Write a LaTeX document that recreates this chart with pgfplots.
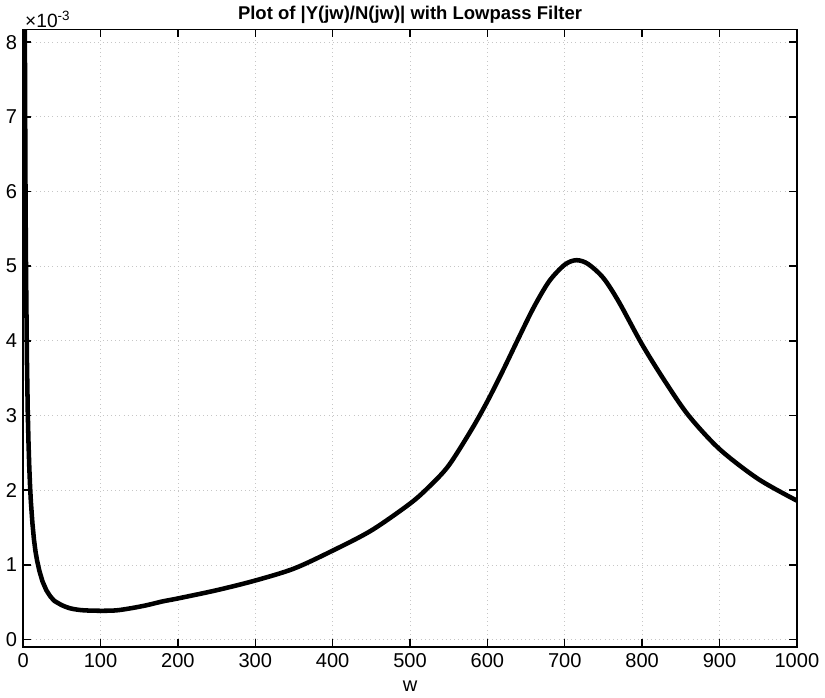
\documentclass[border=0pt]{standalone}
\usepackage{pgfplots}
\pgfplotsset{compat=1.18}
\usepackage{fontspec}
\setmainfont{Liberation Sans}

\begin{document}
\begin{tikzpicture}
\begin{axis}[
	width=15.6cm, height=12.45cm,
	scale only axis,
	title={\bfseries Plot of |Y(jw)/N(jw)| with Lowpass Filter},
	title style={font=\fontsize{10.6}{12}\selectfont, yshift=-6pt},
	xlabel={w},
	label style={font=\fontsize{11.5}{14}\selectfont},
	xlabel style={yshift=-1pt},
	tick label style={font=\fontsize{11.5}{14}\selectfont},
	xmin=0, xmax=1000,
	ymin=-0.1e-3, ymax=8.17e-3,
	xtick={0,100,...,1000},
	ytick={0,1e-3,2e-3,3e-3,4e-3,5e-3,6e-3,7e-3,8e-3},
	scaled y ticks=base 10:3,
	ytick scale label code/.code={×10\textsuperscript{#1}},
	every y tick scale label/.style={at={(rel axis cs:0,1)}, anchor=south west, inner sep=1pt, font=\fontsize{11}{13}\selectfont},
	/pgf/number format/assume math mode=true,
	/pgf/number format/set thousands separator={},
	tick align=inside,
	tick pos=both,
	major tick length=0.16cm,
	grid=major,
	major grid style={gray!45, dotted},
	axis line style={black, line width=0.9pt},
	tick style={black, line width=0.8pt},
	clip=true,
]

% steep part near w = 0
\addplot[black, line width=2.6pt, line join=round] coordinates {
	(1.5, 12.3e-3)
	(2, 9.2e-3)
	(2.5, 7.4e-3)
	(3, 6.2e-3)
	(3.5, 5.3e-3)
	(4, 4.7e-3)
	(5, 3.7e-3)
	(6, 3.05e-3)
	(7, 2.62e-3)
	(8, 2.3e-3)
	(9, 2.05e-3)
	(10, 1.85e-3)
	(12, 1.56e-3)
	(14, 1.34e-3)
	(16, 1.18e-3)
	(18, 1.06e-3)
	(21, 0.92e-3)
	(25, 0.78e-3)
	(30, 0.66e-3)
	(35, 0.58e-3)
	(40, 0.52e-3)
};

% rest of |Y/N|
\addplot[black, line width=2.6pt, smooth, line cap=round] coordinates {
	(40, 0.52e-3)
	(50, 0.46e-3)
	(60, 0.42e-3)
	(70, 0.40e-3)
	(80, 0.39e-3)
	(100, 0.385e-3)
	(120, 0.39e-3)
	(140, 0.42e-3)
	(160, 0.46e-3)
	(180, 0.51e-3)
	(200, 0.55e-3)
	(250, 0.66e-3)
	(300, 0.79e-3)
	(350, 0.95e-3)
	(400, 1.19e-3)
	(450, 1.46e-3)
	(500, 1.82e-3)
	(525, 2.05e-3)
	(550, 2.33e-3)
	(580, 2.82e-3)
	(600, 3.19e-3)
	(620, 3.6e-3)
	(640, 4.03e-3)
	(660, 4.45e-3)
	(680, 4.80e-3)
	(700, 5.02e-3)
	(715, 5.08e-3)
	(730, 5.03e-3)
	(750, 4.84e-3)
	(770, 4.52e-3)
	(800, 3.95e-3)
	(830, 3.45e-3)
	(860, 3.0e-3)
	(900, 2.55e-3)
	(950, 2.15e-3)
	(1000, 1.86e-3)
};

\end{axis}
\end{tikzpicture}
\end{document}
